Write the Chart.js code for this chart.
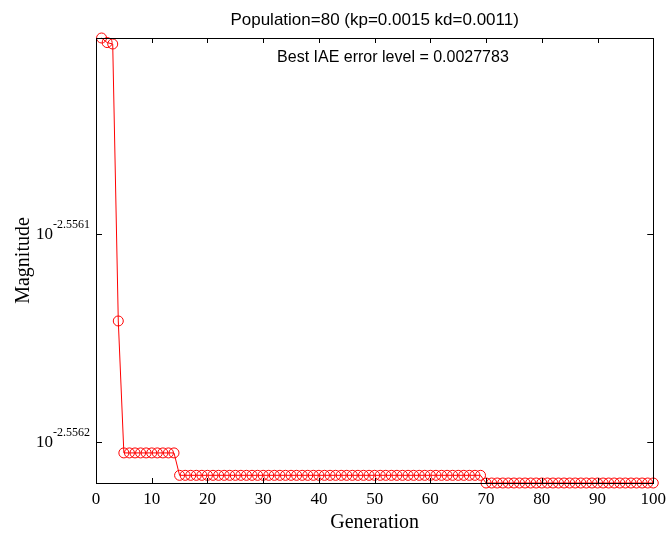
<!DOCTYPE html>
<html>
<head>
<meta charset="utf-8">
<script src="https://cdn.jsdelivr.net/npm/chart.js@4.4.1/dist/chart.umd.min.js"></script>
<style>
  body { margin: 0; background: #fff; }
  #wrap { width: 672px; height: 535px; }
</style>
</head>
<body>
<div id="wrap"><canvas id="gaChart" width="672" height="535"></canvas></div>
<script>
// generation numbers (x) and best magnitude per generation as log10 exponent
const generations = Array.from({ length: 100 }, (_, i) => i + 1)
const magnitudeExp = [
  -2.5560054, -2.5560076, -2.5560083, -2.5561418, -2.5562054,
  -2.5562054, -2.5562054, -2.5562054, -2.5562054, -2.5562054,
  -2.5562054, -2.5562054, -2.5562054, -2.5562054, -2.5562162,
  -2.5562162, -2.5562162, -2.5562162, -2.5562162, -2.5562162,
  -2.5562162, -2.5562162, -2.5562162, -2.5562162, -2.5562162,
  -2.5562162, -2.5562162, -2.5562162, -2.5562162, -2.5562162,
  -2.5562162, -2.5562162, -2.5562162, -2.5562162, -2.5562162,
  -2.5562162, -2.5562162, -2.5562162, -2.5562162, -2.5562162,
  -2.5562162, -2.5562162, -2.5562162, -2.5562162, -2.5562162,
  -2.5562162, -2.5562162, -2.5562162, -2.5562162, -2.5562162,
  -2.5562162, -2.5562162, -2.5562162, -2.5562162, -2.5562162,
  -2.5562162, -2.5562162, -2.5562162, -2.5562162, -2.5562162,
  -2.5562162, -2.5562162, -2.5562162, -2.5562162, -2.5562162,
  -2.5562162, -2.5562162, -2.5562162, -2.5562162, -2.5562199,
  -2.5562199, -2.5562199, -2.5562199, -2.5562199, -2.5562199,
  -2.5562199, -2.5562199, -2.5562199, -2.5562199, -2.5562199,
  -2.5562199, -2.5562199, -2.5562199, -2.5562199, -2.5562199,
  -2.5562199, -2.5562199, -2.5562199, -2.5562199, -2.5562199,
  -2.5562199, -2.5562199, -2.5562199, -2.5562199, -2.5562199,
  -2.5562199, -2.5562199, -2.5562199, -2.5562199, -2.5562199
]
const xTicks = [0, 10, 20, 30, 40, 50, 60, 70, 80, 90, 100]
const yTickExp = [-2.5562, -2.5561]
const yLimitsExp = [-2.5562199, -2.5560054]

const titleText = 'Population=80 (kp=0.0015 kd=0.0011)'
const noteText = 'Best IAE error level = 0.0027783'

const serif = '"Liberation Serif", "Times New Roman", serif'
const sans = '"Liberation Sans", Arial, sans-serif'

const points = generations.map((g, i) => ({ x: g, y: Math.pow(10, magnitudeExp[i]) }))

// matlab style box, inward ticks, superscript y labels, title over the axes and the text note
const matlabAxes = {
  id: 'matlabAxes',
  afterDraw(chart) {
    const { ctx, chartArea: a, scales } = chart
    const xs = scales.x, ys = scales.y
    ctx.save()
    ctx.strokeStyle = '#000'
    ctx.lineWidth = 1
    ctx.strokeRect(Math.round(a.left) + 0.5, Math.round(a.top) + 0.5,
      Math.round(a.right - a.left), Math.round(a.bottom - a.top))
    ctx.beginPath()
    xTicks.forEach(t => {
      const px = Math.round(xs.getPixelForValue(t)) + 0.5
      ctx.moveTo(px, a.bottom); ctx.lineTo(px, a.bottom - 5)
      ctx.moveTo(px, a.top); ctx.lineTo(px, a.top + 5)
    })
    yTickExp.forEach(e => {
      const py = Math.round(ys.getPixelForValue(Math.pow(10, e))) + 0.5
      ctx.moveTo(a.left, py); ctx.lineTo(a.left + 6, py)
      ctx.moveTo(a.right, py); ctx.lineTo(a.right - 6, py)
    })
    ctx.stroke()

    ctx.fillStyle = '#000'
    ctx.textBaseline = 'alphabetic'
    yTickExp.forEach(e => {
      const py = ys.getPixelForValue(Math.pow(10, e))
      const sup = String(e)
      ctx.font = '12px ' + serif
      const supW = ctx.measureText(sup).width
      const supX = a.left - 6 - supW
      ctx.textAlign = 'left'
      ctx.fillText(sup, supX, py - 6)
      ctx.font = '17px ' + serif
      ctx.textAlign = 'right'
      ctx.fillText('10', supX, py + 5)
    })

    ctx.font = '17px ' + sans
    ctx.textAlign = 'center'
    ctx.textBaseline = 'middle'
    ctx.fillText(titleText, (a.left + a.right) / 2, 20)

    ctx.font = '16px ' + sans
    ctx.textAlign = 'left'
    ctx.fillText(noteText, xs.getPixelForValue(32.5), a.top + 20)
    ctx.restore()
  }
}

const ctx = document.getElementById('gaChart').getContext('2d')
const gaChart = new Chart(ctx, {
  type: 'line',
  data: {
    datasets: [{
      label: 'Magnitude',
      data: points,
      borderColor: '#ff0000',
      borderWidth: 1,
      backgroundColor: 'rgba(0,0,0,0)',
      pointStyle: 'circle',
      pointRadius: 5,
      pointBorderWidth: 1,
      pointBorderColor: '#ff0000',
      pointBackgroundColor: 'rgba(0,0,0,0)',
      tension: 0,
      clip: false,
    }],
  },
  options: {
    responsive: false,
    animation: false,
    devicePixelRatio: 1,
    layout: { padding: { left: 0, right: 14, top: 38, bottom: 0 } },
    plugins: {
      legend: { display: false },
      tooltip: { enabled: false },
      title: { display: false },
    },
    scales: {
      x: {
        type: 'linear',
        min: 0,
        max: 100,
        grid: { display: false, drawTicks: false, tickLength: 0 },
        border: { display: false },
        afterBuildTicks: scale => { scale.ticks = xTicks.map(v => ({ value: v })) },
        afterFit: scale => { scale.height = 52 },
        ticks: {
          color: '#000',
          padding: 6,
          maxRotation: 0,
          font: { family: serif, size: 17 },
        },
        title: {
          display: true,
          text: 'Generation',
          color: '#000',
          font: { family: serif, size: 20 },
          padding: { top: 0, bottom: 0 },
        },
      },
      y: {
        type: 'logarithmic',
        min: Math.pow(10, yLimitsExp[0]),
        max: Math.pow(10, yLimitsExp[1]),
        grid: { display: false, drawTicks: false, tickLength: 0 },
        border: { display: false },
        afterBuildTicks: scale => { scale.ticks = yTickExp.map(e => ({ value: Math.pow(10, e) })) },
        afterFit: scale => { scale.width = 96 },
        ticks: { callback: () => '' },
        title: {
          display: true,
          text: 'Magnitude',
          color: '#000',
          font: { family: serif, size: 20 },
          padding: { top: 12, bottom: 0 },
        },
      },
    },
  },
  plugins: [matlabAxes],
})
</script>
</body>
</html>
